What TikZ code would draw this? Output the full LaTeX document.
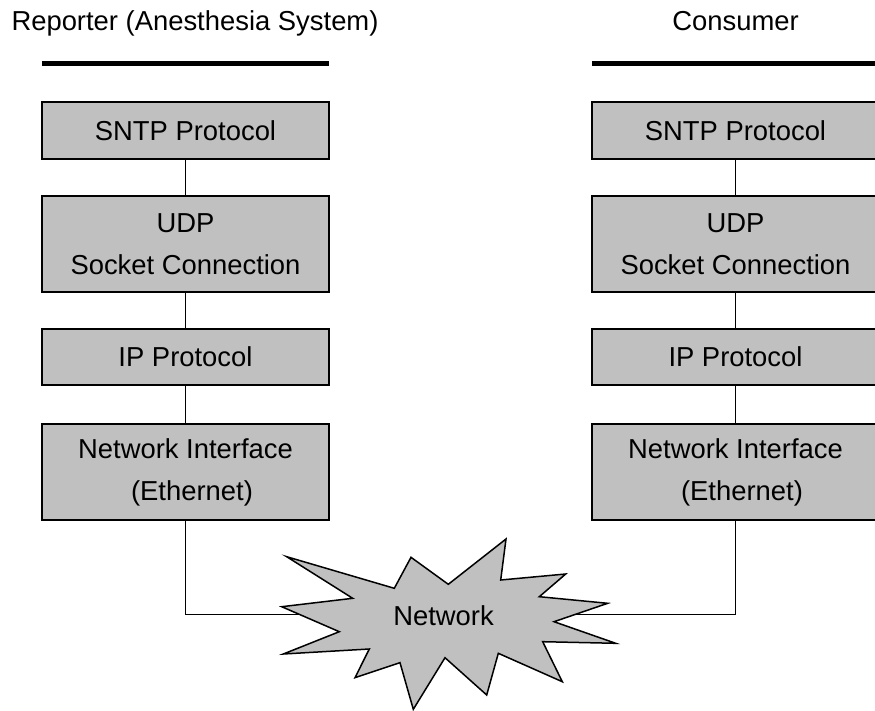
\documentclass[tikz,border=0pt]{standalone}
\usepackage{fontspec}
\setmainfont{Liberation Sans}
\begin{document}
\begin{tikzpicture}[x=1pt,y=-1pt,
  txt/.style={font=\fontsize{27.4}{42}\selectfont, inner sep=0pt},
  layer/.style={txt, draw=black, line width=2pt, fill=boxgray, align=center, minimum width=287pt},
  link/.style={draw=black, line width=1.5pt},
  bar/.style={draw=black, line width=5pt}]
\definecolor{boxgray}{HTML}{C0C0C0}
\clip (0,0) rectangle (875,711);
\fill[white] (0,0) rectangle (875,711);

% headers
\node[txt, anchor=base] (hrep) at (195,31) {Reporter (Anesthesia System)};
\node[txt, anchor=base] (hcon) at (735.5,31) {Consumer};
\coordinate (barLa) at (42,64); \coordinate (barLb) at (329,64);
\coordinate (barRa) at (592,64); \coordinate (barRb) at (880,64);
\draw[bar] (barLa) -- (barLb);
\draw[bar] (barRa) -- (barRb);

% left stack
\node[layer, minimum height=57pt] (sntpL) at (185.5,130.5) {SNTP Protocol};
\node[layer, minimum height=95pt] (udpL) at (185.5,244) {UDP\\Socket Connection};
\node[layer, minimum height=56pt] (ipL) at (185.5,357) {IP Protocol};
\node[layer, minimum height=96pt] (niL) at (185.5,472) {Network Interface\\\hspace*{13pt}(Ethernet)};

% right stack
\node[layer, minimum height=57pt] (sntpR) at (735.5,130.5) {SNTP Protocol};
\node[layer, minimum height=95pt] (udpR) at (735.5,244) {UDP\\Socket Connection};
\node[layer, minimum height=56pt] (ipR) at (735.5,357) {IP Protocol};
\node[layer, minimum height=96pt] (niR) at (735.5,472) {Network Interface\\\hspace*{13pt}(Ethernet)};

\draw[link] (sntpL) -- (udpL);
\draw[link] (udpL) -- (ipL);
\draw[link] (ipL) -- (niL);
\draw[link] (sntpR) -- (udpR);
\draw[link] (udpR) -- (ipR);
\draw[link] (ipR) -- (niR);

% network connectors
\coordinate (netc) at (443.5,614.5);
\draw[link] (niL.south) |- (netc);
\draw[link] (niR.south) |- (netc);

% starburst
\filldraw[fill=boxgray, draw=black, line width=1.5pt, line join=miter]
  (286.7,556.7) -- (394.3,588.3) -- (411,557.3) -- (448.3,584.3) -- (506,539)
  -- (500.7,580) -- (565.7,574) -- (539.3,596.7) -- (607.7,603.3) -- (554,621.7)
  -- (615.7,643.3) -- (542.7,641.7) -- (562.3,681.7) -- (498.3,653.3) -- (486.7,695)
  -- (445,657.7) -- (413.3,709.3) -- (400,662.7) -- (355,677.7) -- (369.3,649)
  -- (283.3,654) -- (339.3,631.7) -- (281.7,606.7) -- (352.7,598.3) -- cycle;
\node[txt] (net) at (443.5,616) {Network};
\end{tikzpicture}
\end{document}
